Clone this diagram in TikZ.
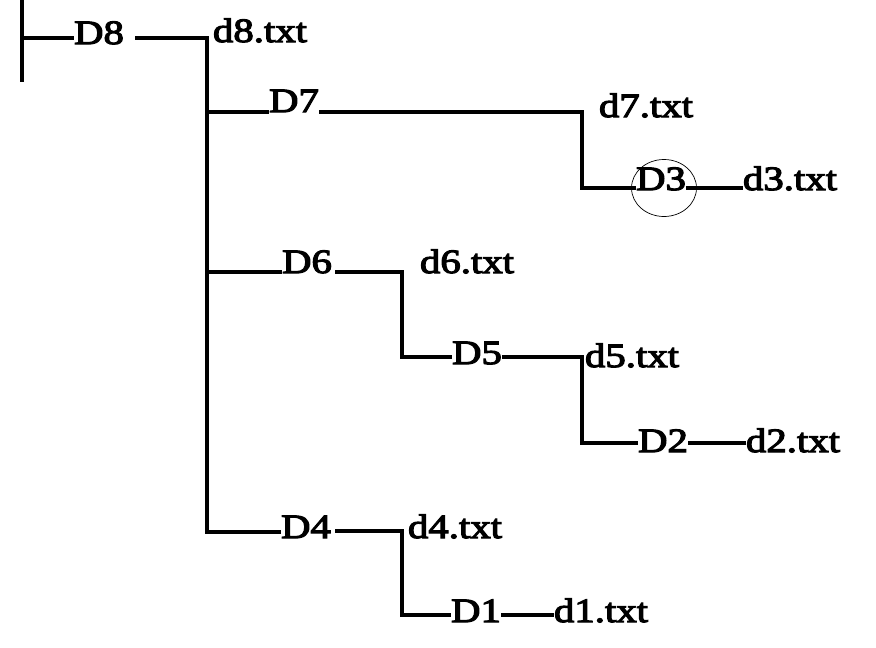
\documentclass[tikz,border=0pt]{standalone}
\usepackage{fontspec}
\newfontfamily\lblfont{Liberation Serif}[FakeStretch=1.2, FakeBold=3.5]
\usetikzlibrary{shapes.geometric}
\begin{document}
\begin{tikzpicture}[x=1pt,y=-1pt,
  lbl/.style={font=\lblfont\fontsize{34}{34}\selectfont, inner sep=0pt, anchor=base},
  wire/.style={line width=3.2pt, line cap=butt, line join=miter},
  ring/.style={draw, ellipse, line width=0.7pt, minimum width=65pt, minimum height=57pt, inner sep=0pt}]
\useasboundingbox (0,0) rectangle (876,648);
\fill[white] (0,0) rectangle (876,648);
% labels
\node[lbl] (D8) at (99,44) {D8};
\node[lbl] (d8) at (260,42) {d8.txt};
\node[lbl] (D7) at (294,112) {D7};
\node[lbl] (d7) at (646,117) {d7.txt};
\node[lbl] (D3) at (661,190) {D3};
\node[lbl] (d3) at (790,190) {d3.txt};
\node[lbl] (D6) at (307,273) {D6};
\node[lbl] (d6) at (467,273) {d6.txt};
\node[lbl] (D5) at (477,364) {D5};
\node[lbl] (d5) at (632,367) {d5.txt};
\node[lbl] (D2) at (663,452) {D2};
\node[lbl] (d2) at (793,452) {d2.txt};
\node[lbl] (D4) at (306,538) {D4};
\node[lbl] (d4) at (455,538) {d4.txt};
\node[lbl] (D1) at (476,622) {D1};
\node[lbl] (d1) at (601,622) {d1.txt};
\node[ring] (D3ring) at (664,188) {};
% root bar
\coordinate (bt) at (22,0);
\coordinate (bb) at (22,82);
\draw[wire] (bt) -- (bb);
\coordinate (r8) at (22,38);
\draw[wire] (r8) -- (D8.west |- r8);
% trunk
\coordinate (t8) at (207,38);
\coordinate (t4) at (207,532);
\draw[wire] ([xshift=11pt]D8.east |- t8) -- (t8) -- (t4) -- (D4.west |- t4);
\coordinate (t7) at (207,112);
\draw[wire] (t7) -- (D7.west |- t7);
\coordinate (t6) at (207,272);
\draw[wire] (t6) -- (D6.west |- t6);
% D7 branch
\coordinate (c7) at (582,112);
\coordinate (c3) at (582,188);
\draw[wire] (D7.east |- c7) -- (c7) -- (c3) -- (D3.west |- c3);
\draw[wire] (D3.east |- c3) -- (d3.west |- c3);
% D6 branch
\coordinate (c6) at (402,272);
\coordinate (c5) at (402,357);
\draw[wire] ([xshift=3pt]D6.east |- c6) -- (c6) -- (c5) -- (D5.west |- c5);
\coordinate (c55) at (582,357);
\coordinate (c2) at (582,443);
\draw[wire] (D5.east |- c55) -- (c55) -- (c2) -- (D2.west |- c2);
\draw[wire] (D2.east |- c2) -- (d2.west |- c2);
% D4 branch
\coordinate (c4) at (402,531);
\coordinate (c1) at (402,615);
\draw[wire] ([xshift=4pt]D4.east |- c4) -- (c4) -- (c1) -- (D1.west |- c1);
\draw[wire] (D1.east |- c1) -- (d1.west |- c1);
\end{tikzpicture}
\end{document}
